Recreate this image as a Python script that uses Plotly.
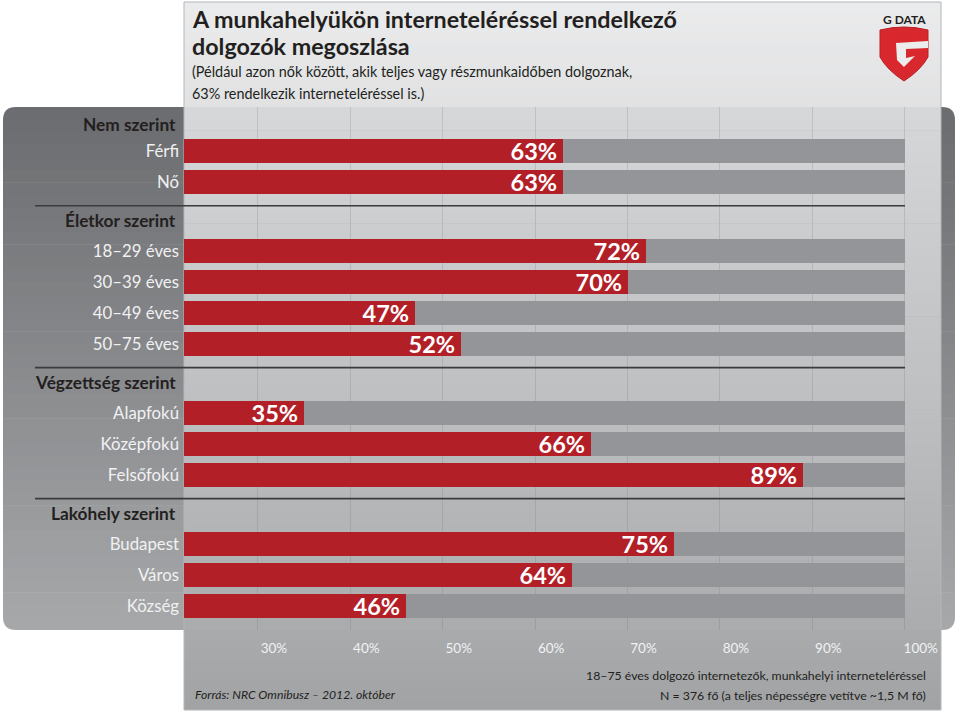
import plotly.graph_objects as go

# ---------------- data ----------------
group_names = ["Nem szerint", "Életkor szerint", "Végzettség szerint", "Lakóhely szerint"]
group_items = [
    ["Férfi", "Nő"],
    ["18–29 éves", "30–39 éves", "40–49 éves", "50–75 éves"],
    ["Alapfokú", "Középfokú", "Felsőfokú"],
    ["Budapest", "Város", "Község"],
]
group_values = [
    [63, 63],
    [72, 70, 47, 52],
    [35, 66, 89],
    [75, 64, 46],
]
tick_values = [30, 40, 50, 60, 70, 80, 90, 100]
tick_labels = ["30%", "40%", "50%", "60%", "70%", "80%", "90%", "100%"]
full_value = 100

title_lines = ["A munkahelyükön interneteléréssel rendelkező", "dolgozók megoszlása"]
subtitle_lines = ["(Például azon nők között, akik teljes vagy részmunkaidőben dolgoznak,",
                  "63% rendelkezik interneteléréssel is.)"]
source_text = "Forrás: NRC Omnibusz – 2012. október"
note_lines = ["18–75 éves dolgozó internetezők, munkahelyi interneteléréssel",
              "N = 376 fő (a teljes népességre vetítve ~1,5 M fő)"]

# ---------------- layout geometry ----------------
W, H = 960, 713
ML, MR, MT, MB = 184, 19, 107, 83
PW, PH = W - ML - MR, H - MT - MB
X_MIN, X_MAX = 22, 22 + PW / 9.24
ROW_GAP = 2.24
Y_TOP, Y_BOT = -1.424, 15.50

def px(x):
    return (x - ML) / PW

def py(y):
    return (H - MB - y) / PH

# compute row positions
cats, vals, ypos, headers, seps = [], [], [], [], []
start = 0.0
for gi, (gname, items, vs) in enumerate(zip(group_names, group_items, group_values)):
    if gi > 0:
        seps.append(start - 1.47)
    headers.append((gname, start - (0.87 if gi == 0 else 0.98)))
    for i, (c, v) in enumerate(zip(items, vs)):
        cats.append(c)
        vals.append(v)
        ypos.append(start + i)
    start = start + len(items) - 1 + ROW_GAP

FONT = "Lato"
DARK = "#231f20"
RED = "#b31f27"
GRAY = "#939598"

def hx(c):
    c = c.lstrip("#")
    return tuple(int(c[i:i + 2], 16) for i in (0, 2, 4))

def lerp(c1, c2, t):
    a, b = hx(c1), hx(c2)
    return "rgb(%d,%d,%d)" % tuple(round(a[i] + (b[i] - a[i]) * t) for i in range(3))

shapes = []

def bands(x0, x1, y0, y1, ctop, cbot, n):
    h = (y1 - y0) / n
    for k in range(n):
        ya, yb = y0 + k * h, y0 + (k + 1) * h + 0.6
        shapes.append(dict(type="rect", xref="paper", yref="paper", layer="below",
                           x0=px(x0), x1=px(x1), y0=py(ya), y1=py(min(yb, y1)),
                           fillcolor=lerp(ctop, cbot, (k + 0.5) / n), line=dict(width=0)))

def P(x, y):
    return "%.5f,%.5f" % (px(x), py(y))

def rounded_part(x0, x1, y0, y1, r, top, color):
    if top:
        path = ("M" + P(x0, y1) + " L" + P(x0, y0 + r) + " Q" + P(x0, y0) + " " + P(x0 + r, y0) +
                " L" + P(x1 - r, y0) + " Q" + P(x1, y0) + " " + P(x1, y0 + r) + " L" + P(x1, y1) + " Z")
    else:
        path = ("M" + P(x0, y0) + " L" + P(x0, y1 - r) + " Q" + P(x0, y1) + " " + P(x0 + r, y1) +
                " L" + P(x1 - r, y1) + " Q" + P(x1, y1) + " " + P(x1, y1 - r) + " L" + P(x1, y0) + " Z")
    shapes.append(dict(type="path", xref="paper", yref="paper", layer="below", path=path,
                       fillcolor=color, line=dict(width=0)))

# dark rounded panel
DX0, DX1, DY0, DY1, R = 3, 955, 107, 630, 13
D_TOP, D_BOT = "#6c6d70", "#a5a7a9"
rounded_part(DX0, DX1, DY0, DY0 + R + 1, R, True, D_TOP)
bands(DX0, DX1, DY0 + R, DY1 - R, D_TOP, D_BOT, 40)
rounded_part(DX0, DX1, DY1 - R - 1, DY1, R, False, D_BOT)

# light panel
LX0, LX1 = 184, 941
bands(LX0, LX1, 2, 107, "#ebebec", "#e1e2e3", 10)
bands(LX0, LX1, 107, 630, "#d6d7d9", "#aaacae", 45)
bands(LX0, LX1, 630, 710, "#a8aaac", "#a1a3a5", 8)
shapes.append(dict(type="rect", xref="paper", yref="paper", layer="below",
                   x0=px(LX0), x1=px(LX1), y0=py(2), y1=py(710),
                   line=dict(color="#b5b6b8", width=1), fillcolor="rgba(0,0,0,0)"))

# separators
for s in seps:
    shapes.append(dict(type="line", xref="paper", yref="y", layer="above",
                       x0=px(35), x1=px(905), y0=s, y1=s,
                       line=dict(color="#3b3b3d", width=1.6)))

# logo shield
shield = ("M" + P(880, 30) + " Q" + P(904, 24) + " " + P(928, 30) + " L" + P(928, 57) +
          " Q" + P(921, 70) + " " + P(904, 81) + " Q" + P(887, 70) + " " + P(880, 57) + " Z")
shapes.append(dict(type="path", xref="paper", yref="paper", layer="above", path=shield,
                   fillcolor="#d9282d", line=dict(color="#b51f25", width=1)))
gcut = ("M" + P(896, 43) + " L" + P(928, 41) + " L" + P(928, 48) + " L" + P(906, 49) +
        " L" + P(906, 58) + " L" + P(915, 56) + " L" + P(904, 67) + " L" + P(897, 60) + " Z")
shapes.append(dict(type="path", xref="paper", yref="paper", layer="above", path=gcut,
                   fillcolor="#ececed", line=dict(width=0)))

# ---------------- traces ----------------
fig = go.Figure()
fig.add_trace(go.Bar(
    y=ypos, x=[full_value] * len(ypos), orientation="h", width=0.78,
    marker=dict(color=GRAY, line=dict(width=0)), hoverinfo="skip", showlegend=False))
fig.add_trace(go.Bar(
    y=ypos, x=vals, orientation="h", width=0.78,
    marker=dict(color=RED, line=dict(width=0)),
    text=[f"{v}%\u2009" for v in vals], textposition="inside", insidetextanchor="end",
    constraintext="none",
    textfont=dict(family=FONT, size=23.5, color="white", weight="bold"),
    showlegend=False))

# ---------------- annotations ----------------
ann = []
def A(text, x, y, size, color=DARK, xanchor="left", bold=False, italic=False):
    ann.append(dict(text=text, x=px(x), y=py(y), xref="paper", yref="paper",
                    xanchor=xanchor, yanchor="middle", showarrow=False,
                    font=dict(family=FONT, size=size, color=color,
                              weight="bold" if bold else "normal",
                              style="italic" if italic else "normal")))

A(title_lines[0], 190, 19, 23.3, bold=True)
A(title_lines[1], 190, 46, 23.3, bold=True)
A(subtitle_lines[0], 190, 72, 14.4)
A(subtitle_lines[1], 190, 93, 14.4)
A(source_text, 193, 694, 12.2, italic=True)
A(note_lines[0], 928, 675, 12.3, xanchor="right")
A(note_lines[1], 928, 695, 12.3, xanchor="right")
A("G DATA", 904, 20, 12, bold=True, xanchor="center")

for gname, yv in headers:
    ann.append(dict(text=gname, x=px(178), y=yv, xref="paper", yref="y",
                    xanchor="right", yanchor="middle", showarrow=False,
                    font=dict(family=FONT, size=17.3, color=DARK, weight="bold")))

fig.update_layout(
    width=W, height=H, margin=dict(l=ML, r=MR, t=MT, b=MB, autoexpand=False),
    paper_bgcolor="white", plot_bgcolor="rgba(0,0,0,0)",
    barmode="overlay", bargap=0,
    shapes=shapes, annotations=ann,
    xaxis=dict(range=[X_MIN, X_MAX], tickvals=tick_values, ticktext=tick_labels,
               showgrid=True, gridcolor="rgba(110,112,118,0.22)", gridwidth=1,
               zeroline=False, showline=False, ticks="", ticklabelshift=16,
               ticklabelstandoff=8,
               tickfont=dict(family=FONT, size=13.5, color="#f2f2f3"), fixedrange=True),
    yaxis=dict(range=[Y_BOT, Y_TOP], tickvals=ypos, ticktext=cats, showgrid=False,
               zeroline=False, showline=False, ticks="", ticklabelstandoff=4,
               tickfont=dict(family=FONT, size=16.8, color="#f1f1f2"), fixedrange=True),
    font=dict(family=FONT),
)

fig.write_html("out.html", config={"displayModeBar": False},
               post_script="document.body.style.margin='0';")
